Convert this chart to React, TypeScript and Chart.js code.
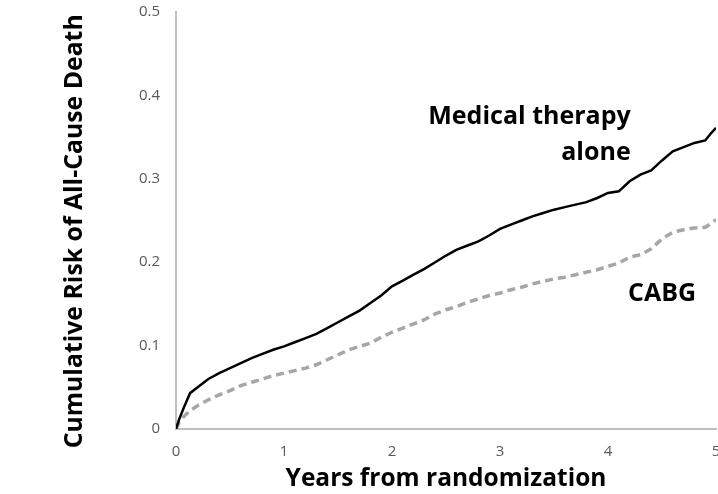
import React, { useEffect, useRef } from "react";
import { Chart, registerables } from "chart.js";

Chart.register(...registerables);

const years = [0, 0.03, 0.08, 0.13, 0.2, 0.3, 0.4, 0.5, 0.6, 0.7, 0.8, 0.9, 1.0, 1.1, 1.2, 1.3, 1.4, 1.5, 1.6, 1.7, 1.8, 1.9, 2.0, 2.1, 2.2, 2.3, 2.4, 2.5, 2.6, 2.7, 2.8, 2.9, 3.0, 3.1, 3.2, 3.3, 3.4, 3.5, 3.6, 3.7, 3.8, 3.9, 4.0, 4.1, 4.2, 4.3, 4.4, 4.5, 4.6, 4.7, 4.8, 4.9, 4.95, 5.0];
const medicalRisk = [0, 0.012, 0.028, 0.043, 0.050, 0.060, 0.067, 0.073, 0.079, 0.085, 0.090, 0.095, 0.099, 0.104, 0.109, 0.114, 0.121, 0.128, 0.135, 0.142, 0.151, 0.160, 0.171, 0.178, 0.185, 0.192, 0.200, 0.208, 0.215, 0.220, 0.225, 0.232, 0.240, 0.245, 0.250, 0.255, 0.259, 0.263, 0.266, 0.269, 0.272, 0.277, 0.283, 0.285, 0.297, 0.305, 0.310, 0.322, 0.333, 0.338, 0.343, 0.346, 0.354, 0.361];
const cabgRisk = [0, 0.008, 0.016, 0.022, 0.028, 0.035, 0.041, 0.046, 0.052, 0.056, 0.060, 0.064, 0.067, 0.070, 0.073, 0.077, 0.083, 0.089, 0.095, 0.099, 0.103, 0.110, 0.116, 0.121, 0.126, 0.131, 0.138, 0.143, 0.147, 0.152, 0.156, 0.160, 0.163, 0.167, 0.170, 0.174, 0.177, 0.180, 0.182, 0.185, 0.188, 0.191, 0.195, 0.199, 0.206, 0.209, 0.216, 0.228, 0.236, 0.239, 0.241, 0.242, 0.246, 0.251];
const xTicks = [0, 1, 2, 3, 4, 5];
const yTicks = [0, 0.1, 0.2, 0.3, 0.4, 0.5];
const yTitle = "Cumulative Risk of All-Cause Death";

const FONT = "'Open Sans', 'Noto Sans', sans-serif";

const labelPlugin = {
  id: "seriesLabels",
  afterDatasetsDraw(chart: any) {
    const { ctx, scales } = chart;
    const xs = scales.x;
    const ys = scales.y;
    ctx.save();
    ctx.fillStyle = "#000";
    ctx.font = `bold 25px ${FONT}`;
    ctx.textBaseline = "middle";
    ctx.textAlign = "right";
    ctx.fillText("Medical therapy", xs.getPixelForValue(4.21), ys.getPixelForValue(0.374));
    ctx.fillText("alone", xs.getPixelForValue(4.21), ys.getPixelForValue(0.331));
    ctx.textAlign = "center";
    ctx.fillText("CABG", xs.getPixelForValue(4.5), ys.getPixelForValue(0.162));
    // y-axis title
    ctx.translate(75, ys.getPixelForValue(0.237));
    ctx.rotate(-Math.PI / 2);
    ctx.font = `bold 24.8px ${FONT}`;
    ctx.fillText(yTitle, 0, 0);
    ctx.restore();
  },
};

export default function App() {
  const ref = useRef<HTMLCanvasElement>(null);
  useEffect(() => {
    if (!ref.current) return;
    const chart = new Chart(ref.current, {
      type: "line",
      data: {
        datasets: [
          {
            label: "Medical therapy alone",
            data: years.map((x, i) => ({ x, y: medicalRisk[i] })),
            borderColor: "#000000",
            borderWidth: 2.5,
            pointRadius: 0,
            fill: false,
            tension: 0,
          },
          {
            label: "CABG",
            data: years.map((x, i) => ({ x, y: cabgRisk[i] })),
            borderColor: "#a6a6a6",
            borderWidth: 3.5,
            borderDash: [8, 5],
            pointRadius: 0,
            fill: false,
            tension: 0,
          },
        ],
      },
      options: {
        animation: false,
        responsive: false,
        maintainAspectRatio: false,
        layout: { padding: { top: 12, right: 24, bottom: 0, left: 0 } },
        plugins: { legend: { display: false }, tooltip: { enabled: false } },
        scales: {
          x: {
            type: "linear",
            min: 0,
            max: 5,
            afterBuildTicks: (s: any) => { s.ticks = xTicks.map((v) => ({ value: v })); },
            afterFit: (s: any) => { s.height = 65; s.paddingLeft = 0; s.paddingRight = 0; },
            grid: { drawOnChartArea: false, drawTicks: false },
            border: { display: true, color: "#bfbfbf", width: 2 },
            ticks: { color: "#595959", font: { family: FONT, size: 15 }, padding: 14, maxRotation: 0 },
            title: {
              display: true,
              text: "Years from randomization",
              color: "#000",
              font: { family: FONT, size: 24.5, weight: "bold" },
              padding: { top: 0, bottom: 0 },
            },
          },
          y: {
            type: "linear",
            min: 0,
            max: 0.5,
            afterBuildTicks: (s: any) => { s.ticks = yTicks.map((v) => ({ value: v })); },
            afterFit: (s: any) => { s.width = 176; s.paddingTop = 0; s.paddingBottom = 0; },
            grid: { drawOnChartArea: false, drawTicks: false },
            border: { display: true, color: "#bfbfbf", width: 2 },
            ticks: {
              color: "#595959",
              font: { family: FONT, size: 15 },
              padding: 16,
              callback: (v: any) => String(v),
            },
            title: { display: false },
          },
        },
      },
      plugins: [labelPlugin],
    });
    return () => chart.destroy();
  }, []);
  return (
    <div style={{ position: "fixed", left: 0, top: 0, width: 718, height: 494, overflow: "hidden", background: "#fff" }}>
      <canvas ref={ref} width={740} height={494} style={{ display: "block", width: 740, height: 494 }} />
    </div>
  );
}
